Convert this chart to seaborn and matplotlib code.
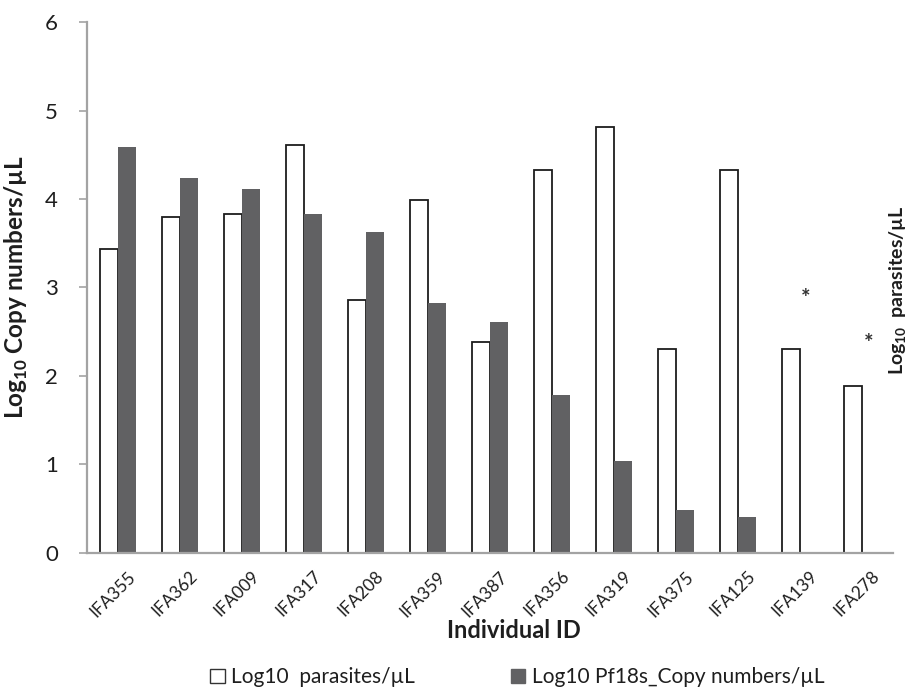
import matplotlib
matplotlib.use("Agg")
import matplotlib.pyplot as plt
import matplotlib.transforms as mtransforms
import seaborn as sns
import pandas as pd
import numpy as np
from matplotlib.patches import Patch

# ---- data ----
ids = ["IFA355", "IFA362", "IFA009", "IFA317", "IFA208", "IFA359", "IFA387",
       "IFA356", "IFA319", "IFA375", "IFA125", "IFA139", "IFA278"]
log_parasites = [3.44, 3.80, 3.83, 4.61, 2.86, 3.99, 2.38, 4.33, 4.81, 2.30, 4.33, 2.30, 1.89]
log_copies = [4.59, 4.24, 4.11, 3.83, 3.63, 2.83, 2.61, 1.79, 1.04, 0.48, 0.41, np.nan, np.nan]
series_names = ["Log10  parasites/µL", "Log10 Pf18s_Copy numbers/µL"]
y_ticks = [0, 1, 2, 3, 4, 5, 6]

sns.set_theme(style="white")
plt.rcParams["font.family"] = ["Lato", "DejaVu Sans"]
plt.rcParams["mathtext.fontset"] = "custom"
plt.rcParams["mathtext.rm"] = "Lato"
plt.rcParams["mathtext.bf"] = "Lato:bold"

df = pd.DataFrame({
    "id": ids * 2,
    "value": log_parasites + log_copies,
    "series": [series_names[0]] * len(ids) + [series_names[1]] * len(ids),
})

WHITE = "#ffffff"
GRAY = "#616163"
AXIS_GRAY = "#a3a3a3"
TXT = "#1e1e1e"

fig = plt.figure(figsize=(9.14, 6.92), dpi=100)
ax = fig.add_axes([0.0952, 0.2009, 0.8818, 0.7673])

sns.barplot(data=df, x="id", y="value", hue="series", order=ids,
            hue_order=series_names, palette=[WHITE, GRAY], saturation=1,
            width=0.58, ax=ax, legend=False, errorbar=None)

for p in ax.containers[0]:
    p.set_edgecolor("#1c1c1c")
    p.set_linewidth(1.3)
for p in ax.containers[1]:
    p.set_edgecolor(GRAY)
    p.set_linewidth(0)

ax.set_xlim(-0.5, len(ids) - 0.5)
ax.set_ylim(0, 6)
ax.set_yticks(y_ticks)
ax.set_yticklabels([str(t) for t in y_ticks], fontsize=16, color=TXT)
ax.tick_params(axis="y", which="major", left=True, length=6, width=1.2,
               color=AXIS_GRAY, pad=15)
ax.tick_params(axis="x", which="major", bottom=False, pad=5)
shift = mtransforms.ScaledTranslation(9 / 100, 0, fig.dpi_scale_trans)
for lab in ax.get_xticklabels():
    lab.set_rotation(45)
    lab.set_ha("right")
    lab.set_rotation_mode("anchor")
    lab.set_fontsize(12.5)
    lab.set_color(TXT)
    lab.set_transform(lab.get_transform() + shift)

for side in ["top", "right"]:
    ax.spines[side].set_visible(False)
for side in ["left", "bottom"]:
    ax.spines[side].set_color(AXIS_GRAY)
    ax.spines[side].set_linewidth(1.6)

ax.set_ylabel(r"Log$_{\mathbf{10}}$ Copy numbers/µL", fontsize=17.5,
              fontweight="bold", color=TXT)
ax.yaxis.set_label_coords(-0.071, 0.5)
ax.set_xlabel("")
fig.text(0.562, 0.089, "Individual ID", ha="center", va="center",
         fontsize=17, fontweight="bold", color=TXT)

# asterisks marking samples
ax.text(11.09, 2.87, "*", ha="center", va="center", fontsize=16,
        fontweight="bold", color="#333333")
ax.text(12.11, 2.37, "*", ha="center", va="center", fontsize=16,
        fontweight="bold", color="#333333")

fig.text(0.971, 0.58, r"Log$_{\mathbf{10}}$  parasites/µL", rotation=90,
         ha="left", va="center", fontsize=14, fontweight="bold", color=TXT)

handles = [Patch(facecolor=WHITE, edgecolor="#333333", linewidth=1.0),
           Patch(facecolor=GRAY, edgecolor=GRAY)]
fig.legend(handles, series_names, loc="center", bbox_to_anchor=(0.566, 0.021),
           ncol=2, frameon=False, fontsize=15, handlelength=0.7,
           handleheight=0.7, handletextpad=0.3, columnspacing=4.6,
           labelcolor=TXT)

fig.savefig("out.png", dpi=100)
